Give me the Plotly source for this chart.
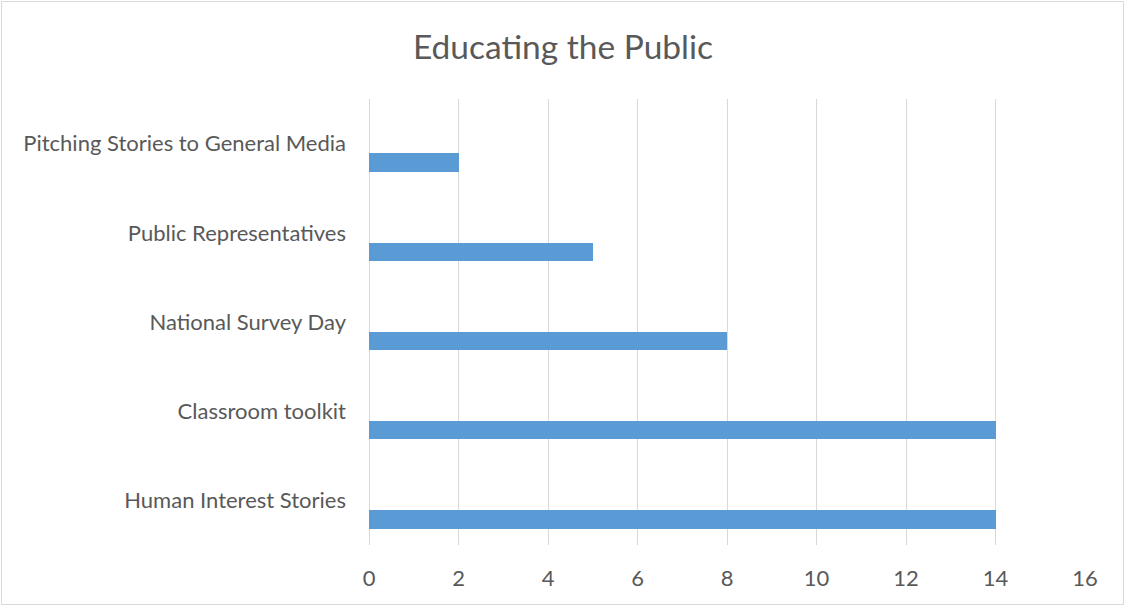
import plotly.graph_objects as go

categories = [
    "Human Interest Stories",
    "Classroom toolkit",
    "National Survey Day",
    "Public Representatives",
    "Pitching Stories to General Media",
]
values = [14, 14, 8, 5, 2]
x_ticks = [0, 2, 4, 6, 8, 10, 12, 14, 16]

W, H = 1126, 606
ML, MR, MT, MB = 369, 41, 99, 61
TEXT = "#595959"
GRID = "#D9D9D9"
FONT = "Lato"

fig = go.Figure(
    go.Bar(
        x=values,
        y=categories,
        orientation="h",
        marker=dict(color="#5B9BD5", line=dict(width=0)),
        width=0.207,
        offset=-0.317,
        hoverinfo="x+y",
    )
)

pw = W - ML - MR
ph = H - MT - MB
fig.add_shape(
    type="rect", xref="paper", yref="paper",
    x0=(1.5 - ML) / pw, x1=(W - 2.5 - ML) / pw,
    y0=-(H - 1.5 - MT - ph) / ph, y1=1 + (MT - 1.5) / ph,
    line=dict(color=GRID, width=1), fillcolor="rgba(0,0,0,0)", layer="below",
)

fig.update_layout(
    width=W, height=H,
    margin=dict(l=ML, r=MR, t=MT, b=MB, pad=0),
    paper_bgcolor="white", plot_bgcolor="white",
    font=dict(family=FONT, color=TEXT, size=22),
    title=dict(
        text="Educating the Public",
        x=0.5, xref="container", xanchor="center",
        y=1 - 47 / H, yref="container", yanchor="middle",
        font=dict(family=FONT, size=33.5, color=TEXT),
    ),
    showlegend=False,
    bargap=0,
    xaxis=dict(
        range=[0, 16], tickvals=x_ticks, showgrid=True, gridcolor=GRID, gridwidth=1,
        zeroline=True, zerolinecolor=GRID, zerolinewidth=1, showline=False,
        ticks="", ticklabelstandoff=18, tickfont=dict(size=22, color=TEXT), fixedrange=True,
    ),
    yaxis=dict(
        type="category", categoryorder="array", categoryarray=categories,
        range=[-0.5, 4.5], showgrid=False, zeroline=False, showline=False,
        ticks="", ticklabelstandoff=22, tickfont=dict(size=22, color=TEXT), fixedrange=True,
    ),
)

fig.write_html(
    "out.html",
    config={"displayModeBar": False},
    post_script="document.body.style.margin='0';document.body.style.overflow='hidden';",
)
